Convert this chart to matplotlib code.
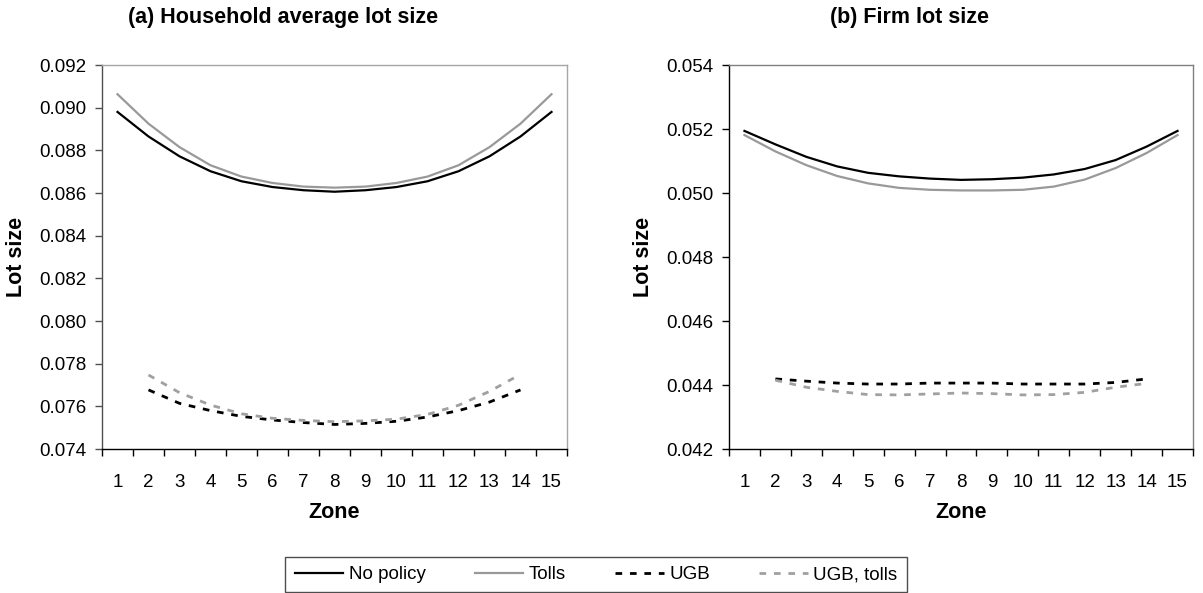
import matplotlib
matplotlib.use("Agg")
import matplotlib.pyplot as plt
from matplotlib.ticker import FixedLocator, NullFormatter, FormatStrFormatter

plt.rcParams["font.family"] = ["Liberation Sans", "DejaVu Sans"]

zones = list(range(1, 16))
ugb_zones = list(range(2, 15))

# (a) household average lot size
hh_none = [0.0898, 0.08865, 0.08772, 0.08702, 0.08655, 0.08628, 0.08613, 0.08606,
           0.08613, 0.08628, 0.08655, 0.08702, 0.08772, 0.08865, 0.0898]
hh_tolls = [0.09063, 0.08925, 0.08815, 0.0873, 0.08677, 0.08647, 0.0863, 0.08625,
            0.0863, 0.08647, 0.08677, 0.0873, 0.08815, 0.08925, 0.09063]
hh_ugb = [0.07677, 0.07614, 0.07580, 0.07553, 0.07536, 0.07524, 0.07515,
          0.07520, 0.07530, 0.07550, 0.07580, 0.07620, 0.07677]
hh_ugb_tolls = [0.07747, 0.07664, 0.07606, 0.07565, 0.07544, 0.07534, 0.07528,
                0.07532, 0.07540, 0.07562, 0.07605, 0.07670, 0.07750]

# (b) firm lot size
firm_none = [0.05194, 0.05152, 0.05113, 0.05083, 0.05063, 0.05052, 0.05045, 0.05041,
             0.05043, 0.05048, 0.05058, 0.05075, 0.05103, 0.05145, 0.05194]
firm_tolls = [0.05181, 0.05130, 0.05087, 0.05053, 0.0503, 0.05016, 0.0501, 0.05008,
              0.05008, 0.0501, 0.05020, 0.05042, 0.05078, 0.05125, 0.05181]
firm_ugb = [0.04419, 0.04412, 0.04406, 0.04403, 0.04403, 0.04406, 0.04406,
            0.04406, 0.04403, 0.04403, 0.04403, 0.04408, 0.04419]
firm_ugb_tolls = [0.04415, 0.04393, 0.0438, 0.0437, 0.04369, 0.04372, 0.04375,
                  0.04373, 0.04369, 0.0437, 0.04377, 0.04393, 0.04405]

BLACK = "#000000"
GRAY = "#999999"
GRAY_D = "#a0a0a0"
FS = 13.5      # tick / legend text
FS_B = 15.5    # bold titles and axis labels


def panel(ax, none, tolls, ugb, ugb_tolls, ylim, left_col, frame_col):
    ax.plot(zones, none, "-", color=BLACK, lw=1.6, label="No policy")
    ax.plot(zones, tolls, "-", color=GRAY, lw=1.6, label="Tolls")
    ax.plot(ugb_zones, ugb, color=BLACK, lw=2.0, dashes=(2.4, 2.8), label="UGB")
    ax.plot(ugb_zones, ugb_tolls, color=GRAY_D, lw=2.0, dashes=(2.4, 2.8),
            label="UGB, tolls")
    ax.set_xlim(0.5, 15.5)
    ax.set_ylim(*ylim)
    n = int(round((ylim[1] - ylim[0]) / 0.002))
    ax.set_yticks([ylim[0] + 0.002 * i for i in range(n + 1)])
    ax.yaxis.set_major_formatter(FormatStrFormatter("%.3f"))
    # category axis: ticks between zones, labels at zone centres
    ax.xaxis.set_major_locator(FixedLocator([z + 0.5 for z in range(0, 16)]))
    ax.xaxis.set_major_formatter(NullFormatter())
    ax.xaxis.set_minor_locator(FixedLocator(zones))
    ax.set_xticklabels([str(z) for z in zones], minor=True)
    ax.tick_params(axis="x", which="major", direction="out", length=5, width=1, color=BLACK)
    ax.tick_params(axis="x", which="minor", length=0, pad=18, labelsize=FS)
    ax.tick_params(axis="y", direction="out", length=5, width=1, pad=6,
                   labelsize=FS, color=left_col)
    ax.spines["left"].set_color(left_col)
    ax.spines["bottom"].set_color(BLACK)
    ax.spines["top"].set_color(frame_col)
    ax.spines["right"].set_color(frame_col)
    for s in ax.spines.values():
        s.set_linewidth(1.0)
    ax.set_xlabel("Zone", fontsize=FS_B, fontweight="bold", labelpad=8)
    ax.set_ylabel("Lot size", fontsize=FS_B, fontweight="bold", labelpad=9)


fig = plt.figure(figsize=(12.03, 5.93), dpi=100)
ax1 = fig.add_axes([102 / 1203, 1 - 449 / 593, 465 / 1203, 384 / 593])
ax2 = fig.add_axes([729 / 1203, 1 - 449 / 593, 464 / 1203, 384 / 593])

panel(ax1, hh_none, hh_tolls, hh_ugb, hh_ugb_tolls, (0.074, 0.092), "#505050", "#a6a6a6")
panel(ax2, firm_none, firm_tolls, firm_ugb, firm_ugb_tolls, (0.042, 0.054), BLACK, "#808080")

fig.text(283 / 1203, 1 - 18 / 593, "(a) Household average lot size", ha="center",
         va="center", fontsize=FS_B, fontweight="bold")
fig.text(910 / 1203, 1 - 18 / 593, "(b) Firm lot size", ha="center",
         va="center", fontsize=FS_B, fontweight="bold")

handles, labels = ax1.get_legend_handles_labels()
leg = fig.legend(handles, labels, loc="center", ncol=4,
                 bbox_to_anchor=(596 / 1203, 1 - 574.5 / 593), fontsize=FS,
                 frameon=True, fancybox=False, edgecolor="#202020",
                 handlelength=2.6, columnspacing=2.6, handletextpad=0.3,
                 borderpad=0.5)
leg.get_frame().set_linewidth(1.0)

fig.savefig("out.png", dpi=100)
